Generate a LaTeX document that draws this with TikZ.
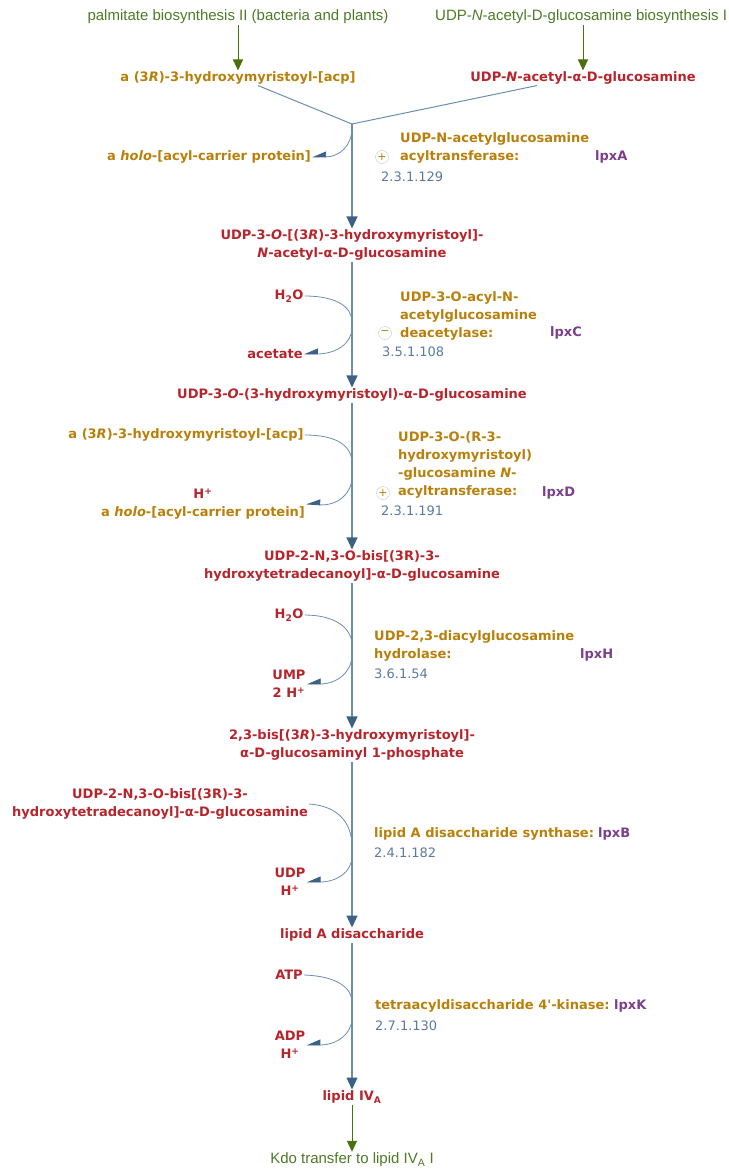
\documentclass[tikz,border=0pt]{standalone}
\usepackage{fontspec}
\setmainfont{DejaVu Sans}[Ligatures=TeXOff]
\newfontfamily\linkfont{Liberation Sans}
\usepackage{xcolor}
\usetikzlibrary{arrows.meta}

\definecolor{compred}{HTML}{B5252B}
\definecolor{acpgold}{HTML}{B8800A}
\definecolor{genepurple}{HTML}{7B3F8C}
\definecolor{ecblue}{HTML}{5B7A9E}
\definecolor{linkgreen}{HTML}{4E7A27}
\definecolor{arrowgreen}{HTML}{4B6E0E}
\definecolor{mainline}{HTML}{6D8DB0}
\definecolor{tipblue}{HTML}{3D6186}

\begin{document}
\begin{tikzpicture}[
    x=1pt, y=-1pt,
    every node/.style={inner sep=1pt, font=\fontsize{13}{18}\selectfont\bfseries},
    compound/.style={text=compred, align=center},
    cofactor/.style={text=acpgold, align=center},
    enzyme/.style={text=acpgold, align=left, anchor=west},
    gene/.style={text=genepurple, anchor=west},
    ecnum/.style={text=ecblue, anchor=west, font=\fontsize{13}{18}\selectfont},
    pathlink/.style={text=linkgreen, font=\linkfont\fontsize{15}{17}\selectfont},
    modsign/.style={circle, draw=gray!45, text=acpgold, inner sep=0pt, minimum size=13pt, font=\fontsize{11}{11}\selectfont},
    reaction/.style={draw=mainline, line width=1.2pt, -{Triangle[width=11pt,length=12pt,color=tipblue]}},
    joinline/.style={draw=mainline, line width=1pt},
    sidein/.style={draw=mainline, line width=0.8pt},
    sideout/.style={draw=mainline, line width=0.8pt, -{Triangle[width=11pt,length=13pt,right,color=tipblue]}},
    linkarrow/.style={draw=arrowgreen, line width=1pt, -{Triangle[width=10pt,length=11pt,color=arrowgreen]}}
]
\useasboundingbox (0,0) rectangle (728,1169);

% Pathway links at the top
\node (palm) [pathlink] at (238,17) {palmitate biosynthesis II (bacteria and plants)};
\node (glcnac) [pathlink, anchor=west] at (434,17) {UDP-\textit{N}-acetyl-D-glucosamine biosynthesis I};

% Substrates of the first step
\node (acp1) [cofactor] at (238,78) {a (3\textit{R})-3-hydroxymyristoyl-[acp]};
\node (udpglc) [compound] at (583,78) {UDP-\textit{N}-acetyl-α-D-glucosamine};
\draw [linkarrow] (acp1 |- palm.south) -- (acp1.north);
\draw [linkarrow] (udpglc |- glcnac.south) -- (udpglc.north);

% Step 1: lpxA
\coordinate (j1) at (352,124);
\coordinate (out1) at (352,128);
\draw [joinline] ([xshift=20pt]acp1.south) -- (j1);
\draw [joinline] ([xshift=-46pt]udpglc.south) -- (j1);
\node (holo1) [cofactor] at (209,157) {a \textit{holo}-[acyl-carrier protein]};
\draw [sideout] (out1) .. controls (352,145) and (340,157) .. (holo1.east);
\node (e1) [enzyme] at (399,148) {UDP-N-acetylglucosamine\\acyltransferase:};
\node (lpxA) [gene] at (594,157) {lpxA};
\node (m1) [modsign] at (382,157) {+};
\node (ec1) [ecnum] at (380,177) {2.3.1.129};

\node (p2) [compound] at (352,245) {UDP-3-\textit{O}-[(3\textit{R})-3-hydroxymyristoyl]-\\\textit{N}-acetyl-α-D-glucosamine};
\draw [reaction] (j1) -- (p2.north);

% Step 2: lpxC
\node (h2o1) [compound] at (289,296) {H\textsubscript{2}O};
\node (acetate) [compound] at (275,354) {acetate};
\coordinate (in2) at (352,322);
\coordinate (out2) at (352,328);
\draw [sidein] (h2o1.east) .. controls (335,296) and (352,306) .. (in2);
\draw [sideout] (out2) .. controls (352,344) and (335,354) .. (acetate.east);
\node (e2) [enzyme] at (399,316) {UDP-3-O-acyl-N-\\acetylglucosamine\\deacetylase:};
\node (lpxC) [gene] at (549,333) {lpxC};
\node (m2) [modsign] at (385,333) {−};
\node (ec2) [ecnum] at (381,352) {3.5.1.108};

\node (p3) [compound] at (352,395) {UDP-3-\textit{O}-(3-hydroxymyristoyl)-α-D-glucosamine};
\draw [reaction] (p2.south) -- (p3.north);

% Step 3: lpxD
\node (acp2) [cofactor] at (186,435) {a (3\textit{R})-3-hydroxymyristoyl-[acp]};
\node (holo2) [cofactor] at (203,504) {\textcolor{compred}{H\textsuperscript{+}}\\a \textit{holo}-[acyl-carrier protein]};
\coordinate (in3) at (352,463);
\coordinate (out3) at (352,477);
\draw [sidein] (acp2.east) .. controls (337,435) and (352,446) .. (in3);
\draw [sideout] (out3) .. controls (352,494) and (337,506) .. (holo2.east);
\node (e3) [enzyme] at (397,465) {UDP-3-O-(R-3-\\hydroxymyristoyl)\\-glucosamine \textit{N}-\\acyltransferase:};
\node (lpxD) [gene] at (541,493) {lpxD};
\node (m3) [modsign] at (383,493) {+};
\node (ec3) [ecnum] at (380,511) {2.3.1.191};

\node (p4) [compound] at (352,566) {UDP-2-N,3-O-bis[(3R)-3-\\hydroxytetradecanoyl]-α-D-glucosamine};
\draw [reaction] (p3.south) -- (p4.north);

% Step 4: lpxH
\node (h2o2) [compound] at (289,615) {H\textsubscript{2}O};
\node (ump) [compound] at (289,684) {UMP\\2 H\textsuperscript{+}};
\coordinate (in4) at (352,645);
\coordinate (out4) at (352,655);
\draw [sidein] (h2o2.east) .. controls (335,615) and (352,628) .. (in4);
\draw [sideout] (out4) .. controls (352,672) and (337,684) .. (ump.east);
\node (e4) [enzyme] at (373,646) {UDP-2,3-diacylglucosamine\\hydrolase:};
\node (lpxH) [gene] at (579,655) {lpxH};
\node (ec4) [ecnum] at (373,674) {3.6.1.54};

\node (p5) [compound] at (352,745) {2,3-bis[(3\textit{R})-3-hydroxymyristoyl]-\\α-D-glucosaminyl 1-phosphate};
\draw [reaction] (p4.south) -- (p5.north);

% Step 5: lpxB
\node (sub5) [compound] at (160,804) {UDP-2-N,3-O-bis[(3R)-3-\\hydroxytetradecanoyl]-α-D-glucosamine};
\node (udp) [compound] at (290,882) {UDP\\H\textsuperscript{+}};
\coordinate (in5) at (352,846);
\coordinate (out5) at (352,856);
\draw [sidein] (sub5.east) .. controls (340,806) and (352,825) .. (in5);
\draw [sideout] (out5) .. controls (352,872) and (337,882) .. (udp.east);
\node (e5) [enzyme] at (373,834) {lipid A disaccharide synthase:};
\node (lpxB) [gene] at (597,834) {lpxB};
\node (ec5) [ecnum] at (373,853) {2.4.1.182};

\node (p6) [compound] at (352,935) {lipid A disaccharide};
\draw [reaction] (p5.south) -- (p6.north);

% Step 6: lpxK
\node (atp) [compound] at (289,975) {ATP};
\node (adp) [compound] at (290,1045) {ADP\\H\textsuperscript{+}};
\coordinate (in6) at (352,1002);
\coordinate (out6) at (352,1018);
\draw [sidein] (atp.east) .. controls (337,976) and (352,988) .. (in6);
\draw [sideout] (out6) .. controls (352,1034) and (337,1045) .. (adp.east);
\node (e6) [enzyme] at (374,1006) {tetraacyldisaccharide 4'-kinase:};
\node (lpxK) [gene] at (613,1006) {lpxK};
\node (ec6) [ecnum] at (374,1026) {2.7.1.130};

\node (p7) [compound] at (352,1097) {lipid IV\textsubscript{A}};
\draw [reaction] (p6.south) -- (p7.north);

% Link to the next pathway
\node (kdo) [pathlink] at (352,1160) {Kdo transfer to lipid IV\textsubscript{A} I};
\draw [linkarrow] (p7.south) -- (kdo.north);

\end{tikzpicture}
\end{document}
